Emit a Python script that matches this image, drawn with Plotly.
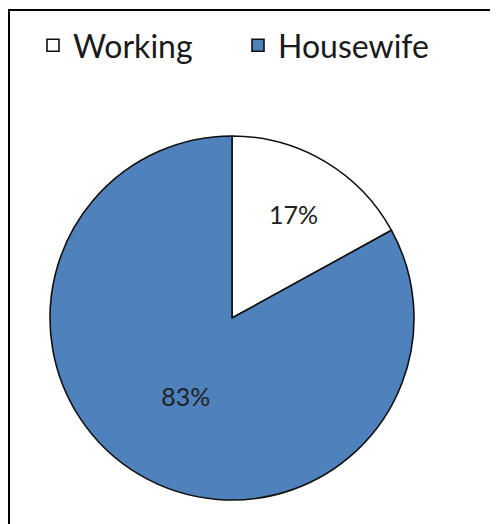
import plotly.graph_objects as go

labels = ["Working", "Housewife"]
values = [17, 83]
colors = ["#FFFFFF", "#4F81BD"]

W, H = 498, 524
OFF = 8  # page offset of the plot
cx, cy, R = 232 - OFF, 318 - OFF, 182

fig = go.Figure(go.Pie(
    labels=labels,
    values=values,
    sort=False,
    direction="clockwise",
    rotation=0,
    marker=dict(colors=colors, line=dict(color="#111111", width=1.6)),
    textinfo="percent",
    texttemplate="%{percent:.0%}",
    textposition="inside",
    insidetextorientation="horizontal",
    textfont=dict(family="Lato, Carlito, Calibri, sans-serif", size=25, color="#222222"),
    domain=dict(x=[(cx - R) / W, (cx + R) / W], y=[1 - (cy + R) / H, 1 - (cy - R) / H]),
    hoverinfo="skip",
))

fig.update_layout(
    width=W, height=H,
    margin=dict(l=0, r=0, t=0, b=0),
    paper_bgcolor="white",
    plot_bgcolor="white",
    showlegend=True,
    legend=dict(
        orientation="h",
        x=(33 - OFF) / W, xanchor="left",
        y=1 - (18 - OFF) / H, yanchor="top",
        font=dict(family="Lato, Carlito, Calibri, sans-serif", size=32, color="#1a1a1a"),
        itemwidth=30,
        entrywidth=160,
        entrywidthmode="pixels",
        tracegroupgap=0,
        bgcolor="rgba(0,0,0,0)",
    ),
    shapes=[dict(
        type="rect", xref="paper", yref="paper",
        x0=1 / W, x1=1.05, y0=-0.05, y1=1 - 2 / H,
        line=dict(color="black", width=2),
        fillcolor="rgba(0,0,0,0)",
        layer="above",
    )],
)

fig.write_html("out.html")
